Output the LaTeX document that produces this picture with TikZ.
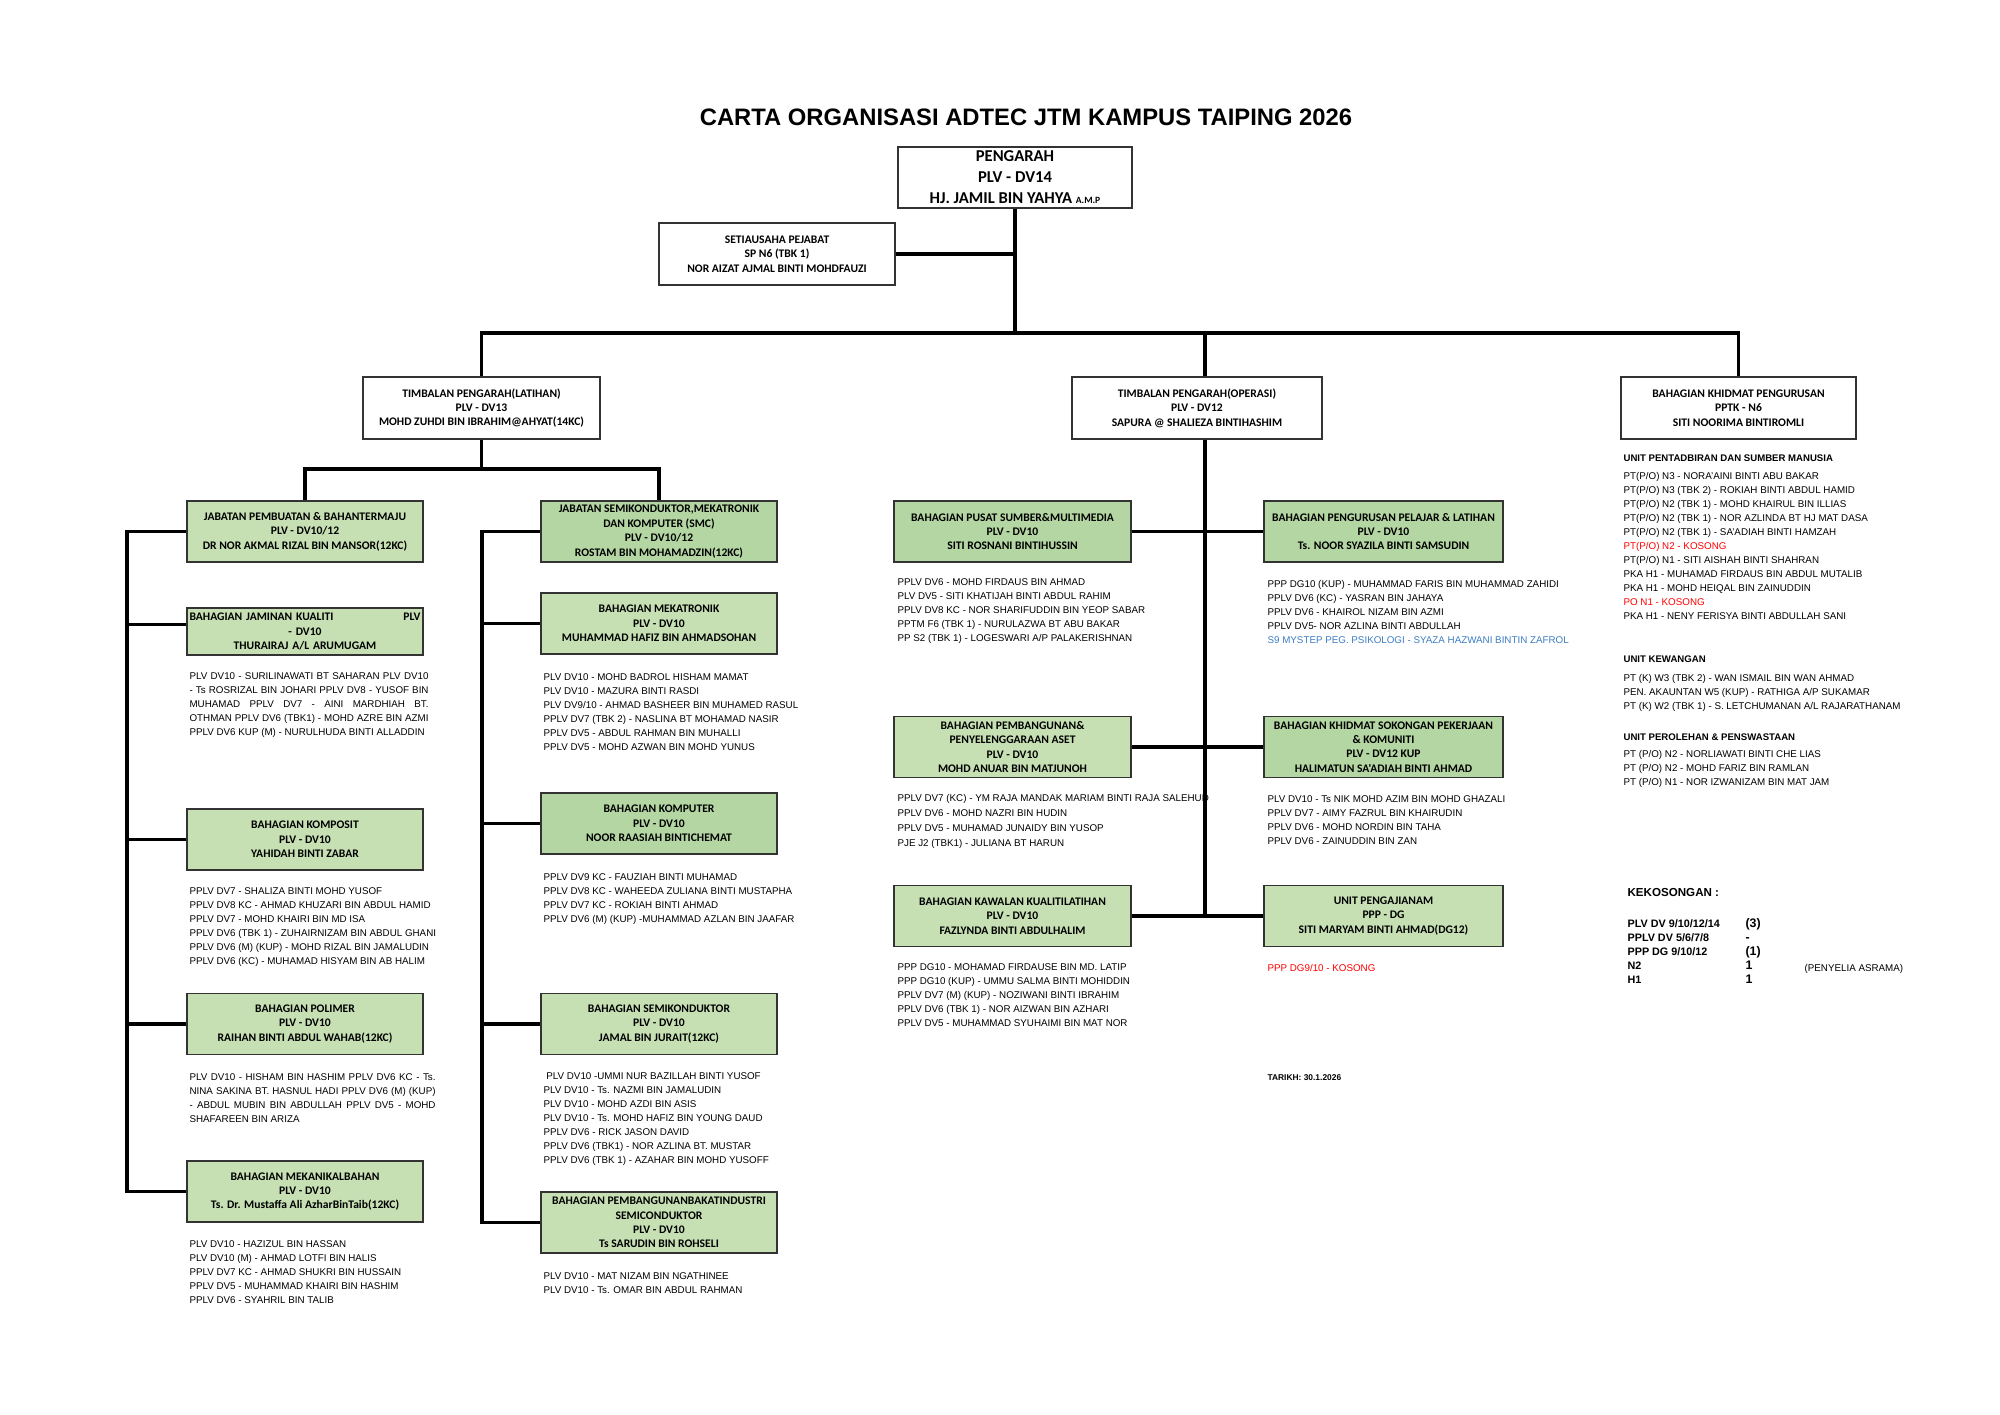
\documentclass[tikz,border=0pt]{standalone}
\usepackage{fontspec}
\setmainfont{Liberation Sans}
\newfontfamily\carlito{Carlito}
\definecolor{lgreen}{HTML}{C6E0B4}
\definecolor{dgreen}{HTML}{B4D6A3}
\definecolor{vacant}{HTML}{FF0000}
\definecolor{mystep}{HTML}{3B7DC4}
\tikzset{every picture/.style={line width=0.2mm}}
\tikzset{
  link/.style={line width=1.6pt},
  wbox/.style={draw=black!80, line width=0.75pt, fill=white, inner sep=0pt, align=center,
    minimum width=118pt, minimum height=30.5pt, font=\carlito\bfseries\fontsize{5.8}{7.2}\selectfont},
  gbox/.style={wbox, fill=lgreen},
  dbox/.style={wbox, fill=dgreen},
  list/.style={anchor=north west, inner sep=0pt, align=left, font=\fontsize{4.9}{7}\selectfont},
  listhead/.style={anchor=north west, inner sep=0pt, align=left, font=\bfseries\fontsize{4.8}{7}\selectfont},
}
\newcommand{\jline}[2]{\makebox[#1][s]{#2}}
\begin{document}
\begin{tikzpicture}[x=0.5pt,y=-0.5pt]
\useasboundingbox (0,0) rectangle (2000,1414);
\node (title) at (1026,117) {\bfseries\fontsize{11.9}{14}\selectfont CARTA ORGANISASI ADTEC JTM KAMPUS TAIPING 2026};

\node[wbox, minimum width=117pt, font=\carlito\bfseries\fontsize{8.3}{10.5}\selectfont] (peng) at (1015,177.5) {PENGARAH\\PLV - DV14\\HJ. JAMIL BIN YAHYA {\fontsize{4.8}{5}\selectfont A.M.P}};
\node[wbox, minimum height=31pt] (setia) at (777,254) {SETIAUSAHA PEJABAT\\SP N6 (TBK 1)\\NOR AIZAT AJMAL BINTI MOHDFAUZI};
\node[wbox, minimum width=118.5pt, minimum height=31pt] (tpl) at (481.5,408) {TIMBALAN PENGARAH(LATIHAN)\\PLV - DV13\\MOHD ZUHDI BIN IBRAHIM@AHYAT(14KC)};
\node[wbox, minimum width=125pt, minimum height=31pt] (tpo) at (1197,408) {TIMBALAN PENGARAH(OPERASI)\\PLV - DV12\\SAPURA @ SHALIEZA BINTIHASHIM};
\node[wbox, minimum width=117.5pt, minimum height=31pt] (bkp) at (1738.5,408) {BAHAGIAN KHIDMAT PENGURUSAN\\PPTK - N6\\SITI NOORIMA BINTIROMLI};

\node[gbox] (jpb) at (305,531.5) {JABATAN PEMBUATAN \& BAHANTERMAJU\\PLV - DV10/12\\DR NOR AKMAL RIZAL BIN MANSOR(12KC)};
\node[gbox, minimum height=23.5pt, text width=115.5pt] (bjk) at (305,631.5) {BAHAGIAN JAMINAN KUALITI\hfill PLV\\- DV10\\THURAIRAJ A/L ARUMUGAM};
\node[gbox] (bko) at (305,839.5) {BAHAGIAN KOMPOSIT\\PLV - DV10\\YAHIDAH BINTI ZABAR};
\node[gbox] (bpo) at (305,1024) {BAHAGIAN POLIMER\\PLV - DV10\\RAIHAN BINTI ABDUL WAHAB(12KC)};
\node[gbox] (bmk) at (305,1191.5) {BAHAGIAN MEKANIKALBAHAN\\PLV - DV10\\Ts. Dr. Mustaffa Ali AzharBinTaib(12KC)};

\node[dbox] (jsm) at (659,531.5) {JABATAN SEMIKONDUKTOR,MEKATRONIK\\DAN KOMPUTER (SMC)\\PLV - DV10/12\\ROSTAM BIN MOHAMADZIN(12KC)};
\node[gbox] (bmt) at (659,623.5) {BAHAGIAN MEKATRONIK\\PLV - DV10\\MUHAMMAD HAFIZ BIN AHMADSOHAN};
\node[dbox] (bkm) at (659,823.5) {BAHAGIAN KOMPUTER\\PLV - DV10\\NOOR RAASIAH BINTICHEMAT};
\node[gbox] (bsk) at (659,1024) {BAHAGIAN SEMIKONDUKTOR\\PLV - DV10\\JAMAL BIN JURAIT(12KC)};
\node[gbox] (bpb) at (659,1222.5) {BAHAGIAN PEMBANGUNANBAKATINDUSTRI\\SEMICONDUKTOR\\PLV - DV10\\Ts SARUDIN BIN ROHSELI};

\node[dbox, minimum width=118.5pt] (bps) at (1012.5,531.5) {BAHAGIAN PUSAT SUMBER\&MULTIMEDIA\\PLV - DV10\\SITI ROSNANI BINTIHUSSIN};
\node[gbox, minimum width=118.5pt] (bpa) at (1012.5,747) {BAHAGIAN PEMBANGUNAN\&\\PENYELENGGARAAN ASET\\PLV - DV10\\MOHD ANUAR BIN MATJUNOH};
\node[gbox, minimum width=118.5pt] (bkk) at (1012.5,916) {BAHAGIAN KAWALAN KUALITILATIHAN\\PLV - DV10\\FAZLYNDA BINTI ABDULHALIM};
\node[dbox, minimum width=119.5pt] (bpp) at (1383.5,531.5) {BAHAGIAN PENGURUSAN PELAJAR \& LATIHAN\\PLV - DV10\\Ts. NOOR SYAZILA BINTI SAMSUDIN};
\node[dbox, minimum width=119.5pt] (bks) at (1383.5,747) {BAHAGIAN KHIDMAT SOKONGAN PEKERJAAN\\\& KOMUNITI\\PLV - DV12 KUP\\HALIMATUN SA'ADIAH BINTI AHMAD};
\node[gbox, minimum width=119.5pt] (upa) at (1383.5,916) {UNIT PENGAJIANAM\\PPP - DG\\SITI MARYAM BINTI AHMAD(DG12)};

\node[list] (ljk) at (189,672.5) {\jline{119.5pt}{PLV DV10 - SURILINAWATI BT SAHARAN PLV DV10}\\\jline{119.5pt}{- Ts ROSRIZAL BIN JOHARI PPLV DV8 - YUSOF BIN}\\\jline{119.5pt}{MUHAMAD PPLV DV7 - AINI MARDHIAH BT.}\\\jline{119.5pt}{OTHMAN PPLV DV6 (TBK1) - MOHD AZRE BIN AZMI}\\PPLV DV6 KUP (M) - NURULHUDA BINTI ALLADDIN};
\node[list] (lko) at (189,887.5) {PPLV DV7 - SHALIZA BINTI MOHD YUSOF\\PPLV DV8 KC - AHMAD KHUZARI BIN ABDUL HAMID\\PPLV DV7 - MOHD KHAIRI BIN MD ISA\\PPLV DV6 (TBK 1) - ZUHAIRNIZAM BIN ABDUL GHANI\\PPLV DV6 (M) (KUP) - MOHD RIZAL BIN JAMALUDIN\\PPLV DV6 (KC) - MUHAMAD HISYAM BIN AB HALIM};
\node[list] (lpo) at (189,1073.5) {\jline{123pt}{PLV DV10 - HISHAM BIN HASHIM PPLV DV6 KC - Ts.}\\\jline{123pt}{NINA SAKINA BT. HASNUL HADI PPLV DV6 (M) (KUP)}\\\jline{123pt}{- ABDUL MUBIN BIN ABDULLAH PPLV DV5 - MOHD}\\SHAFAREEN BIN ARIZA};
\node[list] (lmk) at (189,1240.5) {PLV DV10 - HAZIZUL BIN HASSAN\\PLV DV10 (M) - AHMAD LOTFI BIN HALIS\\PPLV DV7 KC - AHMAD SHUKRI BIN HUSSAIN\\PPLV DV5 - MUHAMMAD KHAIRI BIN HASHIM\\PPLV DV6 - SYAHRIL BIN TALIB};

\node[list] (lmt) at (543,673.5) {PLV DV10 - MOHD BADROL HISHAM MAMAT\\PLV DV10 - MAZURA BINTI RASDI\\PLV DV9/10 - AHMAD BASHEER BIN MUHAMED RASUL\\PPLV DV7 (TBK 2) - NASLINA BT MOHAMAD NASIR\\PPLV DV5 - ABDUL RAHMAN BIN MUHALLI\\PPLV DV5 - MOHD AZWAN BIN MOHD YUNUS};
\node[list] (lkm) at (543,873.5) {PPLV DV9 KC - FAUZIAH BINTI MUHAMAD\\PPLV DV8 KC - WAHEEDA ZULIANA BINTI MUSTAPHA\\PPLV DV7 KC - ROKIAH BINTI AHMAD\\PPLV DV6 (M) (KUP) -MUHAMMAD AZLAN BIN JAAFAR};
\node[list] (lsk) at (543,1072.5) {\hspace{1.4pt}PLV DV10 -UMMI NUR BAZILLAH BINTI YUSOF\\PLV DV10 - Ts. NAZMI BIN JAMALUDIN\\PLV DV10 - MOHD AZDI BIN ASIS\\PLV DV10 - Ts. MOHD HAFIZ BIN YOUNG DAUD\\PPLV DV6 - RICK JASON DAVID\\PPLV DV6 (TBK1) - NOR AZLINA BT. MUSTAR\\PPLV DV6 (TBK 1) - AZAHAR BIN MOHD YUSOFF};
\node[list] (lpb) at (543,1272.5) {PLV DV10 - MAT NIZAM BIN NGATHINEE\\PLV DV10 - Ts. OMAR BIN ABDUL RAHMAN};

\node[list] (lps) at (897,578.5) {PPLV DV6 - MOHD FIRDAUS BIN AHMAD\\PLV DV5 - SITI KHATIJAH BINTI ABDUL RAHIM\\PPLV DV8 KC - NOR SHARIFUDDIN BIN YEOP SABAR\\PPTM F6 (TBK 1) - NURULAZWA BT ABU BAKAR\\PP S2 (TBK 1) - LOGESWARI A/P PALAKERISHNAN};
\node[list] (lpp) at (1267,579.5) {PPP DG10 (KUP) - MUHAMMAD FARIS BIN MUHAMMAD ZAHIDI\\PPLV DV6 (KC) - YASRAN BIN JAHAYA\\PPLV DV6 - KHAIROL NIZAM BIN AZMI\\PPLV DV5- NOR AZLINA BINTI ABDULLAH\\\textcolor{mystep}{S9 MYSTEP PEG. PSIKOLOGI - SYAZA HAZWANI BINTIN ZAFROL}};
\node[list, font=\fontsize{4.9}{7.6}\selectfont] (lpa) at (897,793.5) {PPLV DV7 (KC) - YM RAJA MANDAK MARIAM BINTI RAJA SALEHUD\\PPLV DV6 - MOHD NAZRI BIN HUDIN\\PPLV DV5 - MUHAMAD JUNAIDY BIN YUSOP\\PJE J2 (TBK1) - JULIANA BT HARUN};
\node[list] (lks) at (1267,795.5) {PLV DV10 - Ts NIK MOHD AZIM BIN MOHD GHAZALI\\PPLV DV7 - AIMY FAZRUL BIN KHAIRUDIN\\PPLV DV6 - MOHD NORDIN BIN TAHA\\PPLV DV6 - ZAINUDDIN BIN ZAN};
\node[list] (lkk) at (897,963.5) {PPP DG10 - MOHAMAD FIRDAUSE BIN MD. LATIP\\PPP DG10 (KUP) - UMMU SALMA BINTI MOHIDDIN\\PPLV DV7 (M) (KUP) - NOZIWANI BINTI IBRAHIM\\PPLV DV6 (TBK 1) - NOR AIZWAN BIN AZHARI\\PPLV DV5 - MUHAMMAD SYUHAIMI BIN MAT NOR};
\node[list, text=vacant] (lpa2) at (1267,963.5) {PPP DG9/10 - KOSONG};
\node[listhead, font=\bfseries\fontsize{4.2}{6}\selectfont] (date) at (1267,1074) {TARIKH: 30.1.2026};

\node[listhead] (hps) at (1623,454.5) {UNIT PENTADBIRAN DAN SUMBER MANUSIA};
\node[list] (lhps) at (1623,471.5) {PT(P/O) N3 - NORA'AINI BINTI ABU BAKAR\\PT(P/O) N3 (TBK 2) - ROKIAH BINTI ABDUL HAMID\\PT(P/O) N2 (TBK 1) - MOHD KHAIRUL BIN ILLIAS\\PT(P/O) N2 (TBK 1) - NOR AZLINDA BT HJ MAT DASA\\PT(P/O) N2 (TBK 1) - SA'ADIAH BINTI HAMZAH\\\textcolor{vacant}{PT(P/O) N2 - KOSONG}\\PT(P/O) N1 - SITI AISHAH BINTI SHAHRAN\\PKA H1 - MUHAMAD FIRDAUS BIN ABDUL MUTALIB\\PKA H1 - MOHD HEIQAL BIN ZAINUDDIN\\\textcolor{vacant}{PO N1 - KOSONG}\\PKA H1 - NENY FERISYA BINTI ABDULLAH SANI};
\node[listhead] (hkw) at (1623,655.5) {UNIT KEWANGAN};
\node[list] (lhkw) at (1623,673.5) {PT (K) W3 (TBK 2) - WAN ISMAIL BIN WAN AHMAD\\PEN. AKAUNTAN W5 (KUP) - RATHIGA A/P SUKAMAR\\PT (K) W2 (TBK 1) - S. LETCHUMANAN A/L RAJARATHANAM};
\node[listhead] (hpp) at (1623,733.5) {UNIT PEROLEHAN \& PENSWASTAAN};
\node[list] (lhpp) at (1623,749.5) {PT (P/O) N2 - NORLIAWATI BINTI CHE LIAS\\PT (P/O) N2 - MOHD FARIZ BIN RAMLAN\\PT (P/O) N1 - NOR IZWANIZAM BIN MAT JAM};

\node[listhead, font=\bfseries\fontsize{5.8}{7}\selectfont] (kk) at (1627,888) {KEKOSONGAN :};
\node[listhead, font=\bfseries\fontsize{5.4}{7}\selectfont] (kkt) at (1627,917) {\begin{tabular}{@{}p{59pt}@{}l@{}}
PLV DV 9/10/12/14 & {\fontsize{6.2}{7}\selectfont (3)}\\
PPLV DV 5/6/7/8 & {\fontsize{6.2}{7}\selectfont -}\\
PPP DG 9/10/12 & {\fontsize{6.2}{7}\selectfont (1)}\\
N2 & {\fontsize{6.2}{7}\selectfont 1}\\
H1 & {\fontsize{6.2}{7}\selectfont 1}
\end{tabular}};
\node[list, anchor=west] (asr) at (1804,969) {(PENYELIA ASRAMA)};

\coordinate (top) at (1015,333);
\coordinate (op) at (1205,333);
\coordinate (fork) at (481.5,469);
\coordinate (sp1) at (127,531.5);
\coordinate (sp2) at (482,531.5);
\draw[link] (peng.south) -- (top);
\draw[link] (setia.east) -- (setia.east -| top);
\draw[link] (tpl.north) |- (top) -| (bkp.north);
\draw[link] (op) -- (op |- tpo.north);
\draw[link] (tpo.south -| op) -- (op |- bkk.east);
\draw[link] (tpl.south) -- (fork);
\draw[link] (jpb.north) |- (fork) -| (jsm.north);
\draw[link] (jpb.west) -- (sp1) |- (bmk.west);
\draw[link] ([yshift=3.5pt]bjk.west) -- ([yshift=3.5pt]bjk.west -| sp1);
\draw[link] (bko.west) -- (bko.west -| sp1);
\draw[link] (bpo.west) -- (bpo.west -| sp1);
\draw[link] (jsm.west) -- (sp2) |- (bpb.west);
\draw[link] (bmt.west) -- (bmt.west -| sp2);
\draw[link] (bkm.west) -- (bkm.west -| sp2);
\draw[link] (bsk.west) -- (bsk.west -| sp2);
\draw[link] (bps.east) -- (bpp.west);
\draw[link] (bpa.east) -- (bks.west);
\draw[link] (bkk.east) -- (upa.west);
\end{tikzpicture}
\end{document}
